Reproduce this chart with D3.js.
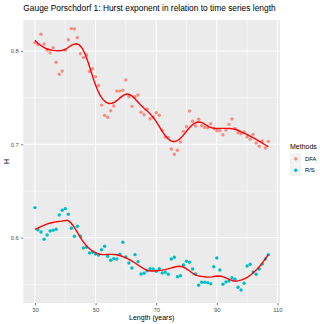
<!DOCTYPE html>
<html>
<head>
<meta charset="utf-8">
<style>
  body { margin: 0; background: #fff; }
  svg text { font-family: "Liberation Sans", Arial, Helvetica, sans-serif; }
</style>
<script src="https://cdn.jsdelivr.net/npm/d3@7"></script>
</head>
<body>
<div id="chart"></div>
<script>
// time series length (years) for every point
var lengths = d3.range(30, 108);

// Hurst exponent, DFA method (one value per length)
var hDFA = [
  0.809, 0.807, 0.818, 0.8075, 0.801, 0.798, 0.8035, 0.788, 0.775, 0.7786,
  0.801, 0.812, 0.824, 0.8236, 0.8143, 0.797, 0.793, 0.7957, 0.778, 0.781,
  0.7725, 0.763, 0.742, 0.731, 0.729, 0.736, 0.741, 0.757, 0.757, 0.758,
  0.769, 0.751, 0.7407, 0.751, 0.7528, 0.7343, 0.7317, 0.7375, 0.7274, 0.729,
  0.7339, 0.7311, 0.715, 0.7078, 0.7075, 0.695, 0.6893, 0.6936, 0.7025, 0.7139,
  0.7189, 0.7357, 0.7247, 0.7196, 0.7268, 0.720, 0.7182, 0.7178, 0.7221, 0.717,
  0.7146, 0.7146, 0.7103, 0.7153, 0.7214, 0.7271, 0.7171, 0.7124, 0.7114, 0.7132,
  0.7081, 0.7054, 0.7107, 0.7014, 0.6979, 0.7035, 0.696, 0.7032
];

// Hurst exponent, R/S method
var hRS = [
  0.6322, 0.6083, 0.6061, 0.5983, 0.6029, 0.6072, 0.6079, 0.609, 0.6243, 0.6294,
  0.6311, 0.6251, 0.6101, 0.6015, 0.6122, 0.6015, 0.589, 0.5897, 0.5836, 0.5844,
  0.5825, 0.5815, 0.5871, 0.5908, 0.5801, 0.5758, 0.5775, 0.5772, 0.5822, 0.5951,
  0.5793, 0.5729, 0.5675, 0.5818, 0.5743, 0.5611, 0.5618, 0.5646, 0.5668, 0.5665,
  0.564, 0.5668, 0.5622, 0.5629, 0.5608, 0.5772, 0.579, 0.5582, 0.5593, 0.5707,
  0.5747, 0.5736, 0.5665, 0.5611, 0.549, 0.5522, 0.5522, 0.5518, 0.5507, 0.5689,
  0.5782, 0.5654, 0.5501, 0.5525, 0.5536, 0.5571, 0.5554, 0.5468, 0.5439, 0.5511,
  0.5697, 0.5715, 0.5632, 0.5608, 0.5665, 0.5718, 0.5772, 0.5818
];

var methods = ["DFA", "R/S"];
var colours = ["#F8766D", "#00BFC4"];
var xTicks = [30, 50, 70, 90, 110];
var xMinor = [40, 60, 80, 100];
var yTicks = [0.6, 0.7, 0.8];
var yMinor = [0.55, 0.65, 0.75];

var W = 320, H = 324;
var panel = { left: 23.3, right: 280, top: 20, bottom: 303 };

var svg = d3.select("#chart").append("svg")
  .attr("width", W).attr("height", H);

var x = d3.scaleLinear().domain([26.15, 110.85]).range([panel.left, panel.right]);
var y = d3.scaleLinear().domain([0.530, 0.8332]).range([panel.bottom, panel.top]);

// local quadratic regression with tricube weights (like loess)
function loess(xs, ys, span, at) {
  var n = xs.length, q = Math.floor(n * span);
  return at.map(function (x0) {
    var d = xs.map(function (v) { return Math.abs(v - x0); });
    var h = d.slice().sort(function (a, b) { return a - b; })[q - 1];
    var S = [0, 0, 0, 0, 0], T = [0, 0, 0];
    for (var i = 0; i < n; i++) {
      var u = d[i] / h;
      if (u >= 1) continue;
      var w = Math.pow(1 - u * u * u, 3), t = xs[i] - x0;
      var p = 1;
      for (var k = 0; k < 5; k++) { S[k] += w * p; if (k < 3) T[k] += w * p * ys[i]; p *= t; }
    }
    var A = [[S[0], S[1], S[2]], [S[1], S[2], S[3]], [S[2], S[3], S[4]]];
    var det = function (m) {
      return m[0][0] * (m[1][1] * m[2][2] - m[1][2] * m[2][1])
        - m[0][1] * (m[1][0] * m[2][2] - m[1][2] * m[2][0])
        + m[0][2] * (m[1][0] * m[2][1] - m[1][1] * m[2][0]);
    };
    var A0 = [[T[0], S[1], S[2]], [T[1], S[2], S[3]], [T[2], S[3], S[4]]];
    return det(A0) / det(A);
  });
}

// panel
svg.append("rect")
  .attr("x", panel.left).attr("y", panel.top)
  .attr("width", panel.right - panel.left).attr("height", panel.bottom - panel.top)
  .attr("fill", "#EBEBEB");

var grid = svg.append("g");
grid.selectAll(".ymin").data(yMinor).enter().append("line")
  .attr("x1", panel.left).attr("x2", panel.right)
  .attr("y1", y).attr("y2", y)
  .attr("stroke", "#fff").attr("stroke-width", 0.5);
grid.selectAll(".xmin").data(xMinor).enter().append("line")
  .attr("y1", panel.top).attr("y2", panel.bottom)
  .attr("x1", x).attr("x2", x)
  .attr("stroke", "#fff").attr("stroke-width", 0.5);
grid.selectAll(".ymaj").data(yTicks).enter().append("line")
  .attr("x1", panel.left).attr("x2", panel.right)
  .attr("y1", y).attr("y2", y)
  .attr("stroke", "#fff").attr("stroke-width", 1);
grid.selectAll(".xmaj").data(xTicks).enter().append("line")
  .attr("y1", panel.top).attr("y2", panel.bottom)
  .attr("x1", x).attr("x2", x)
  .attr("stroke", "#fff").attr("stroke-width", 1);

var series = [hDFA, hRS];
var fitX = d3.range(80).map(function (i) { return 30 + i * 77 / 79; });

series.forEach(function (vals, s) {
  svg.append("g").selectAll("circle")
    .data(vals).enter().append("circle")
    .attr("cx", function (d, i) { return x(lengths[i]); })
    .attr("cy", function (d) { return y(d); })
    .attr("r", 1.7)
    .attr("fill", colours[s])
    .attr("fill-opacity", s === 0 ? 0.8 : 1);
});

var line = d3.line()
  .x(function (d) { return x(d[0]); })
  .y(function (d) { return y(d[1]); })
  .curve(d3.curveLinear);

series.forEach(function (vals) {
  var fit = loess(lengths, vals, 0.3, fitX);
  svg.append("path")
    .datum(fitX.map(function (v, i) { return [v, fit[i]]; }))
    .attr("d", line)
    .attr("fill", "none")
    .attr("stroke", "#FF0000")
    .attr("stroke-width", 1.4);
});

// axes
var xAxis = d3.axisBottom(x).tickValues(xTicks).tickSize(2.5).tickPadding(2);
var yAxis = d3.axisLeft(y).tickValues(yTicks).tickSize(2.5).tickPadding(2).tickFormat(d3.format(".1f"));

var gx = svg.append("g").attr("transform", "translate(0," + panel.bottom + ")").call(xAxis);
var gy = svg.append("g").attr("transform", "translate(" + panel.left + ",0)").call(yAxis);
[gx, gy].forEach(function (g) {
  g.select(".domain").remove();
  g.selectAll(".tick line").attr("stroke", "#333").attr("stroke-width", 0.6);
  g.selectAll(".tick text").attr("fill", "#4D4D4D").style("font-size", "5.8px");
});

// titles
svg.append("text")
  .attr("x", panel.left).attr("y", 10.5)
  .style("font-size", "8.4px").attr("fill", "#000")
  .text("Gauge Porschdorf 1: Hurst exponent in relation to time series length");

svg.append("text")
  .attr("x", (panel.left + panel.right) / 2).attr("y", 319.5)
  .attr("text-anchor", "middle")
  .style("font-size", "7px").attr("fill", "#000")
  .text("Length (years)");

svg.append("text")
  .attr("transform", "translate(9," + (panel.top + panel.bottom) / 2 + ") rotate(-90)")
  .attr("text-anchor", "middle")
  .style("font-size", "7px").attr("fill", "#000")
  .text("H");

// legend
var legend = svg.append("g").attr("transform", "translate(290,0)");
legend.append("text").attr("x", 0).attr("y", 148.5)
  .style("font-size", "7px").attr("fill", "#000").text("Methods");
methods.forEach(function (m, i) {
  var cy = 158.7 + i * 11.5;
  legend.append("rect")
    .attr("x", 0).attr("y", cy - 5.75).attr("width", 11.5).attr("height", 11.5)
    .attr("fill", "#F2F2F2");
  legend.append("circle")
    .attr("cx", 5.75).attr("cy", cy).attr("r", 1.7)
    .attr("fill", colours[i]).attr("fill-opacity", i === 0 ? 0.8 : 1);
  legend.append("text")
    .attr("x", 15).attr("y", cy + 2)
    .style("font-size", "5.8px").attr("fill", "#000")
    .text(m);
});
</script>
</body>
</html>
